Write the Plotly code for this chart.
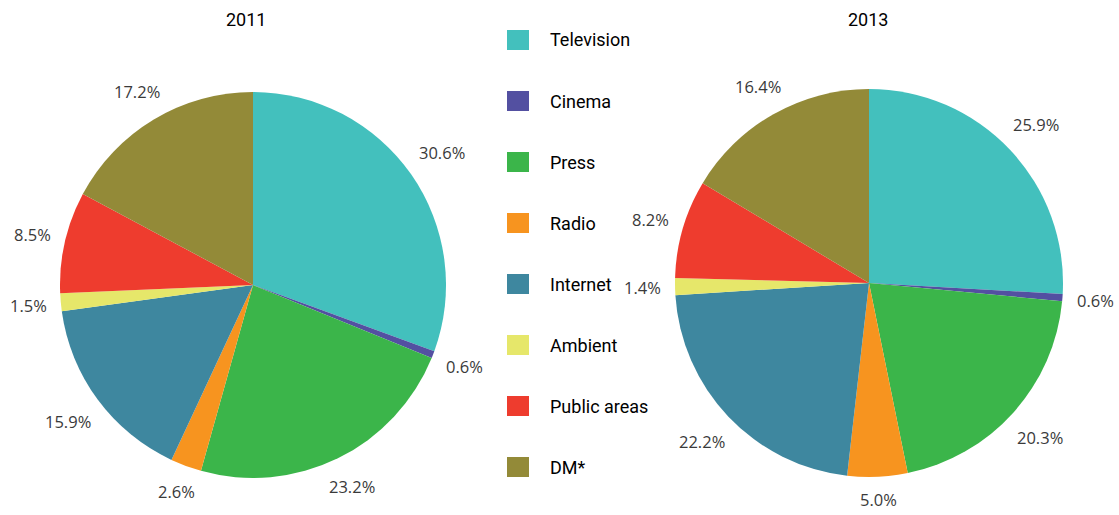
import math
import plotly.graph_objects as go

# Media advertising spend share by channel
channels = ["Television", "Cinema", "Press", "Radio", "Internet", "Ambient", "Public areas", "DM*"]
share_2011 = [30.6, 0.6, 23.2, 2.6, 15.9, 1.5, 8.5, 17.2]
share_2013 = [25.9, 0.6, 20.3, 5.0, 22.2, 1.4, 8.2, 16.4]
years = ["2011", "2013"]
colors = ["#43C0BD", "#5350A1", "#3BB54A", "#F7941F", "#3E879F", "#E6E76A", "#EE3C2E", "#938A38"]

W, H = 1119, 515
label_font = dict(family="Open Sans, DejaVu Sans", size=16.5, color="#3a3a3a", weight=400)
head_font = dict(family="Roboto, DejaVu Sans", size=18, color="#000000", weight=400)

# pie centres and radii in pixels
pies = [(253, 285, 193), (869, 283, 194)]


def px_domain(cx, cy, r):
    return dict(x=[(cx - r) / W, (cx + r) / W], y=[(H - cy - r) / H, (H - cy + r) / H])


fig = go.Figure()
for vals, (cx, cy, r) in zip([share_2011, share_2013], pies):
    fig.add_trace(go.Pie(
        labels=channels,
        values=vals,
        sort=False,
        direction="clockwise",
        rotation=0,
        marker=dict(colors=colors, line=dict(width=0)),
        textinfo="none",
        domain=px_domain(cx, cy, r),
        showlegend=False,
        hoverinfo="label+value",
    ))

    # percentage labels just outside each slice, at the slice's middle angle
    total = sum(vals)
    cum = 0.0
    for v in vals:
        mid = (cum + v / 2) / total * 2 * math.pi
        cum += v
        txt = f"{v:.1f}%"
        sx, sy = math.sin(mid), -math.cos(mid)
        tw, th = 9.6 * len(txt), 17
        d = r + 13 + abs(sx) * tw / 2 + abs(sy) * th / 2
        px, py = cx + sx * d, cy + sy * d
        fig.add_annotation(x=px / W, y=1 - py / H, xref="paper", yref="paper", text=txt,
                           showarrow=False, font=label_font, xanchor="center", yanchor="middle")

# Year headings above each pie
for yr, cx in zip(years, [246, 868]):
    fig.add_annotation(x=cx / W, y=1 - 19 / H, xref="paper", yref="paper", text=yr,
                       showarrow=False, font=head_font, xanchor="center", yanchor="middle")

# Legend column between the pies
for i, (name, col) in enumerate(zip(channels, colors)):
    yc = 40 + i * 61.0
    fig.add_shape(type="rect", xref="paper", yref="paper",
                  x0=507 / W, x1=529 / W, y0=1 - (yc + 10) / H, y1=1 - (yc - 10) / H,
                  fillcolor=col, line=dict(width=0))
    fig.add_annotation(x=548 / W, y=1 - yc / H, xref="paper", yref="paper", text=name,
                       showarrow=False, font=head_font, xanchor="left", yanchor="middle")

fig.update_layout(
    width=W, height=H,
    margin=dict(l=0, r=0, t=0, b=0),
    paper_bgcolor="white",
    plot_bgcolor="white",
)

fig.write_html("out.html")
